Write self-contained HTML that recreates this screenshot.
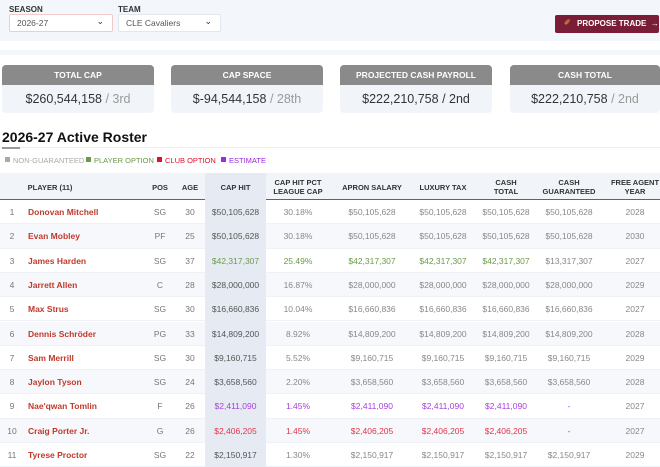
<!DOCTYPE html>
<html><head><meta charset="utf-8"><style>
*{margin:0;padding:0;box-sizing:border-box}
body{width:660px;height:464px;overflow:hidden;background:#fff;font-family:"Liberation Sans",sans-serif;position:relative;color:#555}
.a{position:absolute}
.top{left:0;top:0;width:660px;height:41px;background:#f3f6fa}
.lbl{font-size:8px;font-weight:bold;color:#333}
.sel{background:#fff;border:1px solid #e3e6ea;border-radius:2px;height:18px;font-size:8.5px;color:#555;padding:3px 0 0 7px}
.sel span{position:absolute;right:8px;top:1px;font-size:9px;color:#333}
.btn{left:555px;top:15px;width:104px;height:18px;background:#7a1d37;border-radius:2px;color:#fff;font-size:8px;font-weight:bold;padding:4px 0 0 22px;white-space:nowrap}
.card{top:65px;width:152px;height:48px;border-radius:4px;background:#f1f5fa;overflow:hidden}
.card .h{height:20px;background:#8a8a8a;color:#fff;font-weight:bold;font-size:8.5px;text-align:center;padding-top:5px}
.card .v{text-align:center;font-size:12.5px;color:#333;padding-top:7px}
.card .v i{font-style:normal;color:#999}
.leg{top:156px;font-size:7.5px;white-space:nowrap}
.sq{display:inline-block;width:5px;height:5px;margin-right:3px;vertical-align:1px}
.hd{left:0;top:173px;width:660px;height:27px;background:#f1f5fa;border-bottom:1px solid #5b6470}
.th{font-size:7.5px;font-weight:bold;color:#333;text-align:center;line-height:9px}
.row{left:0;width:660px;height:24.3px}
.c{font-size:8.5px;text-align:center;line-height:24px;color:#777}
.n{color:#c0392b;font-weight:bold;font-size:8.5px;line-height:24px}
</style></head><body>
<div class="a top"></div>
<div class="a lbl" style="left:9px;top:5px">SEASON</div>
<div class="a lbl" style="left:118px;top:5px">TEAM</div>
<div class="a sel" style="left:9px;top:14px;width:104px;border-color:#f3c9c9">2026-27<span>⌄</span></div>
<div class="a sel" style="left:118px;top:14px;width:103px">CLE Cavaliers<span>⌄</span></div>
<div class="a btn"><span style="position:absolute;left:9px;top:3px;color:#c7763a;font-size:8px">✐</span>PROPOSE TRADE&nbsp; →</div>
<div class="a" style="left:0;top:50px;width:660px;height:5px;background:#f3f6fa"></div>

<div class="a card" style="left:2px"><div class="h">TOTAL CAP</div><div class="v">$260,544,158 <i>/ 3rd</i></div></div>
<div class="a card" style="left:171px"><div class="h">CAP SPACE</div><div class="v">$-94,544,158 <i>/ 28th</i></div></div>
<div class="a card" style="left:340px"><div class="h">PROJECTED CASH PAYROLL</div><div class="v">$222,210,758 / 2nd</div></div>
<div class="a card" style="left:510px;width:150px"><div class="h">CASH TOTAL</div><div class="v">$222,210,758 <i>/ 2nd</i></div></div>

<div class="a" style="left:2px;top:129px;font-size:14px;font-weight:bold;color:#111">2026-27 Active Roster</div>
<div class="a" style="left:0;top:147px;width:660px;height:1px;background:#eee"></div>
<div class="a" style="left:2px;top:147px;width:18px;height:2px;background:#999"></div>
<div class="a leg" style="left:5px"><span class="sq" style="background:#aaa"></span><span style="color:#aaa">NON-GUARANTEED</span></div>
<div class="a leg" style="left:86px"><span class="sq" style="background:#6a9a4a"></span><span style="color:#6a9a4a">PLAYER OPTION</span></div>
<div class="a leg" style="left:157px"><span class="sq" style="background:#e0102a"></span><span style="color:#e0102a">CLUB OPTION</span></div>
<div class="a leg" style="left:221px"><span class="sq" style="background:#9a2be0"></span><span style="color:#9a2be0">ESTIMATE</span></div>

<div class="a hd"></div>
<div class="a" style="left:205px;top:173px;width:61px;height:291px;background:#e6ebf3"></div>
<div class="a th" style="left:20px;top:183px;width:60px">PLAYER (11)</div>
<div class="a th" style="left:145px;top:183px;width:30px">POS</div>
<div class="a th" style="left:175px;top:183px;width:30px">AGE</div>
<div class="a th" style="left:205px;top:183px;width:61px">CAP HIT</div>
<div class="a th" style="left:266px;top:178px;width:64px">CAP HIT PCT<br>LEAGUE CAP</div>
<div class="a th" style="left:335px;top:183px;width:74px">APRON SALARY</div>
<div class="a th" style="left:410px;top:183px;width:66px">LUXURY TAX</div>
<div class="a th" style="left:476px;top:178px;width:60px">CASH<br>TOTAL</div>
<div class="a th" style="left:536px;top:178px;width:66px">CASH<br>GUARANTEED</div>
<div class="a th" style="left:604px;top:178px;width:62px">FREE AGENT<br>YEAR</div>

<div id="rows"></div>
<script>
var d=[
["Donovan Mitchell","SG","30","$50,105,628","30.18%","$50,105,628","$50,105,628","$50,105,628","$50,105,628","2028",""],
["Evan Mobley","PF","25","$50,105,628","30.18%","$50,105,628","$50,105,628","$50,105,628","$50,105,628","2030",""],
["James Harden","SG","37","$42,317,307","25.49%","$42,317,307","$42,317,307","$42,317,307","$13,317,307","2027","g"],
["Jarrett Allen","C","28","$28,000,000","16.87%","$28,000,000","$28,000,000","$28,000,000","$28,000,000","2029",""],
["Max Strus","SG","30","$16,660,836","10.04%","$16,660,836","$16,660,836","$16,660,836","$16,660,836","2027",""],
["Dennis Schröder","PG","33","$14,809,200","8.92%","$14,809,200","$14,809,200","$14,809,200","$14,809,200","2028",""],
["Sam Merrill","SG","30","$9,160,715","5.52%","$9,160,715","$9,160,715","$9,160,715","$9,160,715","2029",""],
["Jaylon Tyson","SG","24","$3,658,560","2.20%","$3,658,560","$3,658,560","$3,658,560","$3,658,560","2028",""],
["Nae'qwan Tomlin","F","26","$2,411,090","1.45%","$2,411,090","$2,411,090","$2,411,090","-","2027","p"],
["Craig Porter Jr.","G","26","$2,406,205","1.45%","$2,406,205","$2,406,205","$2,406,205","-","2027","r"],
["Tyrese Proctor","SG","22","$2,150,917","1.30%","$2,150,917","$2,150,917","$2,150,917","$2,150,917","2029",""]];
var cols={g:"#6a9a4a",p:"#a63ee0",r:"#e0354a"};
var h="";
d.forEach(function(r,i){
var t=200+i*24.3,col=cols[r[10]]||"";
h+='<div class="a row" style="top:'+t+'px;background:'+(i%2?'#f6f8fb':'#fff')+';border-bottom:1px solid #eef1f5"></div>';
h+='<div class="a" style="left:205px;top:'+t+'px;width:61px;height:24.3px;background:#e6ebf3"></div>';
h+='<div class="a c" style="left:0;top:'+t+'px;width:24px">'+(i+1)+'</div>';
h+='<div class="a n" style="left:28px;top:'+t+'px">'+r[0]+'</div>';
h+='<div class="a c" style="left:145px;top:'+t+'px;width:30px">'+r[1]+'</div>';
h+='<div class="a c" style="left:175px;top:'+t+'px;width:30px">'+r[2]+'</div>';
h+='<div class="a c" style="left:205px;top:'+t+'px;width:61px;color:'+(col||'#555')+'">'+r[3]+'</div>';
var xs=[[266,64],[335,74],[410,66],[476,60],[536,66],[604,62]];
for(var k=4;k<10;k++){var c=(col&&k<9)?col:'#888';if(r[10]=='g'&&k==8)c='#888';
h+='<div class="a c" style="left:'+xs[k-4][0]+'px;top:'+t+'px;width:'+xs[k-4][1]+'px;color:'+c+'">'+r[k]+'</div>';}
});
document.getElementById("rows").innerHTML=h;
</script>
</body></html>
